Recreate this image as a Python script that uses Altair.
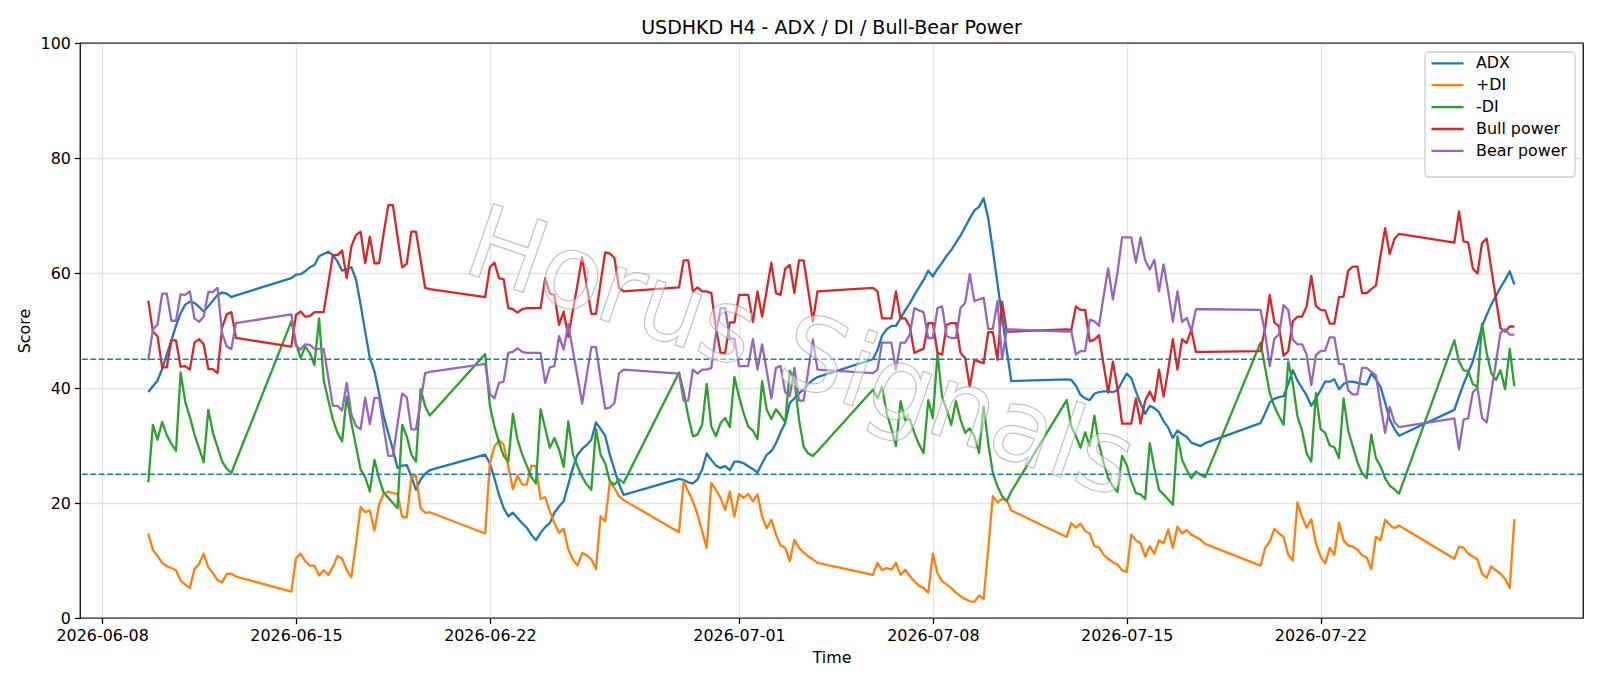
import altair as alt
import pandas as pd

# ---- H4 bar timestamps: 4-hour bars, market shut from the Friday 20:00 bar to Sunday 20:00 ----
all_slots = pd.date_range("2026-06-09 16:00", "2026-07-29 00:00", freq="4h")
is_open = ~((all_slots.dayofweek == 5) | ((all_slots.dayofweek == 6) & (all_slots.hour < 20)))
bar_times = all_slots[is_open].strftime("%Y-%m-%dT%H:%M:%S").tolist()

# ---- indicator values, one entry per bar (weeks separated by line breaks) ----
adx = [
    39.3, 40.3, 41.3, 43.3, 45.8, 48.3, 50.8, 53.0, 54.5, 55.0, 54.8, 54.1, 53.3, 54.2, 55.2, 56.2, 56.6, 56.4, 55.8, 56.1,
    59.1, 59.7, 59.8, 60.3, 61.0, 61.4, 62.9, 63.3, 63.7, 63.1, 62.0, 60.4, 60.7, 61.0, 58.9, 54.5, 49.8, 45.2, 42.9, 39.1, 35.1, 32.2, 29.3, 26.1, 26.5, 26.6, 24.6, 22.3, 24.1, 25.1, 25.7,
    28.4, 26.9, 24.3, 21.4, 19.1, 17.7, 18.3, 17.4, 16.5, 15.7, 14.5, 13.5, 14.8, 15.8, 16.5, 18.3, 19.4, 20.3, 23.2, 26.1, 28.4, 29.4, 30.1, 31.0, 34.0, 32.9, 31.7, 28.4, 25.8, 23.3, 21.4,
    24.2, 24.0, 23.6, 23.4, 24.1, 25.8, 28.6, 27.5, 26.5, 26.1, 26.4, 25.7, 27.2, 27.2, 26.9, 26.4, 25.9, 25.3, 26.9, 28.4, 29.0, 30.4, 32.3, 33.9, 37.4, 38.2, 39.1, 39.7, 40.7, 41.4, 41.9,
    45.0, 46.6, 49.1, 50.2, 50.8, 50.8, 52.1, 53.5, 54.7, 56.2, 57.5, 58.8, 60.4, 59.4, 60.7, 61.8, 63.0, 64.0, 65.3, 66.5, 68.0, 69.5, 70.9, 71.5, 73.0, 69.5, 64.0, 58.2, 52.4, 46.6, 41.2,
    41.5, 41.4, 40.4, 38.8, 38.2, 37.9, 39.0, 39.3, 39.4, 39.4, 39.3, 39.6, 41.1, 42.5, 41.7, 39.4, 37.3, 35.5, 36.9, 36.5, 35.8, 34.2, 33.1, 31.3, 32.6, 32.0, 31.5, 30.5, 30.2, 29.9, 30.4,
    33.9, 35.6, 37.5, 38.1, 38.4, 38.6, 40.7, 43.1, 41.3, 40.0, 38.7, 36.9, 38.2, 39.6, 41.1, 41.1, 41.5, 39.8, 40.7, 41.1, 41.1, 40.9, 40.7, 40.6, 42.5, 41.5, 40.2, 37.5, 34.5, 32.9, 31.7,
    36.2, 38.5, 40.7, 42.7, 44.6, 47.5, 50.7, 52.7, 54.5, 56.0, 57.5, 58.8, 60.3, 58.0,
]

plus_di = [
    14.7, 11.8, 10.8, 9.6, 9.0, 8.7, 8.3, 6.5, 5.8, 5.2, 8.5, 9.4, 11.2, 8.8, 7.8, 6.6, 6.2, 7.7, 7.7, 7.2,
    4.6, 10.4, 11.2, 9.9, 9.1, 9.1, 7.4, 8.3, 7.5, 8.9, 10.8, 10.3, 8.3, 7.1, 12.9, 19.3, 18.4, 18.7, 15.2, 19.7, 21.6, 22.0, 21.7, 21.6, 17.6, 17.5, 24.5, 24.8, 19.1, 18.3, 18.4,
    14.7, 26.9, 29.8, 30.9, 30.1, 26.4, 22.4, 24.8, 23.2, 23.2, 26.5, 26.4, 20.7, 21.0, 18.5, 16.5, 14.8, 15.5, 11.9, 10.2, 9.1, 11.3, 10.9, 10.2, 8.5, 17.7, 16.8, 23.6, 22.6, 21.2, 20.5,
    14.9, 23.8, 22.0, 20.3, 18.0, 15.1, 12.2, 23.5, 22.3, 20.9, 18.8, 22.0, 17.6, 21.6, 20.9, 21.6, 20.3, 21.5, 17.6, 15.6, 17.1, 14.5, 12.6, 12.2, 9.9, 13.6, 12.2, 11.4, 10.7, 10.2, 9.6,
    7.5, 9.6, 8.3, 8.7, 8.4, 9.6, 7.5, 8.4, 7.3, 6.4, 5.6, 5.2, 4.4, 11.2, 7.8, 6.4, 5.8, 5.2, 4.4, 3.8, 3.3, 2.9, 2.8, 3.9, 3.3, 12.0, 21.2, 20.1, 20.7, 20.5, 18.7,
    14.1, 16.5, 15.7, 16.4, 15.1, 14.7, 12.5, 12.3, 11.0, 10.3, 9.7, 9.3, 8.3, 8.0, 14.5, 13.5, 13.0, 10.7, 12.5, 11.2, 13.5, 13.0, 15.4, 12.2, 15.9, 14.7, 15.3, 14.5, 14.1, 13.6, 12.9,
    9.1, 12.2, 13.3, 15.5, 14.7, 14.1, 11.0, 10.0, 20.1, 17.6, 15.7, 17.2, 13.0, 10.7, 9.5, 12.2, 11.0, 16.6, 13.5, 12.6, 12.4, 11.9, 10.9, 10.5, 8.5, 14.1, 13.5, 17.1, 16.2, 15.6, 16.1,
    10.3, 12.4, 12.2, 11.2, 10.7, 10.2, 7.7, 7.0, 9.0, 8.3, 7.7, 6.8, 5.2, 17.2,
]

minus_di = [
    23.6, 33.6, 31.0, 34.1, 31.8, 30.3, 29.1, 42.7, 37.6, 35.0, 31.9, 29.5, 27.1, 36.2, 32.2, 29.7, 27.2, 26.0, 25.2, 27.3,
    51.6, 47.8, 45.2, 47.2, 46.1, 44.0, 52.1, 41.4, 37.9, 34.5, 32.2, 30.7, 38.5, 33.9, 29.9, 25.8, 24.5, 22.0, 27.5, 24.3, 21.8, 20.9, 20.0, 19.1, 33.6, 31.6, 28.4, 27.2, 39.8, 36.8, 35.2,
    45.9, 37.0, 33.3, 30.5, 28.2, 27.2, 35.5, 31.0, 28.5, 26.5, 24.5, 23.4, 36.3, 33.0, 29.6, 31.3, 29.3, 26.3, 34.2, 28.5, 26.4, 24.6, 23.2, 22.3, 32.9, 28.4, 26.9, 23.8, 23.2, 24.1, 23.5,
    42.7, 39.4, 35.1, 31.6, 31.9, 33.6, 40.7, 33.3, 31.6, 33.9, 34.8, 33.2, 41.9, 38.5, 35.6, 33.3, 32.6, 31.1, 41.2, 36.2, 34.6, 36.3, 35.3, 34.0, 43.0, 41.4, 34.5, 29.8, 28.6, 28.2, 29.0,
    39.7, 38.2, 40.2, 35.6, 33.0, 29.9, 37.7, 34.4, 34.6, 32.2, 30.2, 28.7, 37.9, 34.8, 46.0, 38.5, 36.2, 33.6, 37.7, 34.5, 32.2, 33.0, 31.6, 28.7, 36.8, 30.4, 25.2, 22.9, 21.2, 20.3, 22.0,
    37.9, 33.3, 31.6, 29.6, 32.3, 29.9, 35.2, 30.2, 27.0, 24.3, 22.9, 21.9, 28.2, 26.6, 23.8, 21.7, 21.5, 20.7, 30.4, 26.1, 22.3, 21.5, 20.6, 19.7, 31.6, 27.5, 25.8, 24.3, 25.5, 24.9, 24.5,
    47.9, 43.5, 39.1, 36.8, 35.1, 33.6, 44.6, 40.8, 35.1, 32.6, 28.6, 27.2, 39.1, 32.9, 32.2, 30.0, 29.7, 27.8, 38.2, 32.6, 29.8, 27.1, 25.2, 24.3, 31.9, 27.8, 26.4, 24.3, 23.0, 22.4, 21.6,
    48.3, 44.6, 43.1, 42.9, 40.7, 40.2, 51.2, 46.1, 42.6, 41.4, 43.1, 39.8, 46.8, 40.3,
]

bull_power = [
    55.2, 49.8, 49.0, 43.6, 43.6, 48.3, 48.3, 43.7, 43.8, 43.2, 47.9, 48.5, 47.6, 43.3, 43.3, 42.6, 50.5, 52.8, 53.2, 48.7,
    47.2, 52.7, 53.3, 52.4, 52.5, 53.2, 53.2, 53.2, 58.2, 63.1, 63.1, 63.9, 59.1, 64.6, 66.6, 67.2, 61.7, 66.3, 61.7, 61.7, 66.9, 71.8, 71.8, 66.3, 61.0, 61.6, 67.2, 67.2, 62.3, 57.4, 57.2,
    55.8, 61.0, 61.8, 59.1, 58.9, 53.9, 53.7, 53.1, 53.7, 53.9, 53.9, 53.9, 53.9, 59.1, 56.4, 56.2, 51.0, 53.3, 48.9, 53.5, 58.0, 62.7, 57.8, 52.9, 52.9, 58.3, 63.6, 63.4, 62.6, 57.4, 56.8,
    57.5, 62.2, 62.2, 56.8, 57.5, 56.8, 56.8, 56.5, 50.5, 46.1, 46.1, 51.4, 51.4, 56.2, 56.2, 56.2, 51.5, 56.8, 52.4, 57.0, 61.8, 56.5, 56.2, 60.7, 61.4, 56.5, 62.2, 62.2, 57.0, 51.6, 56.8,
    57.4, 56.8, 52.1, 52.1, 52.1, 56.8, 52.1, 52.1, 50.7, 46.1, 46.5, 46.8, 51.3, 51.3, 46.1, 45.8, 51.0, 51.3, 51.3, 46.1, 45.2, 40.2, 44.9, 44.6, 44.3, 49.7, 49.7, 44.9, 55.0, 49.8, 49.8,
    50.2, 50.1, 54.2, 53.6, 53.6, 48.1, 48.4, 49.2, 44.0, 39.2, 44.6, 40.0, 33.8, 33.8, 33.8, 38.2, 33.8, 37.8, 39.4, 37.7, 43.2, 38.5, 43.2, 48.5, 43.2, 48.5, 47.8, 50.1, 46.3, 46.3, 46.3,
    46.4, 50.5, 56.2, 51.4, 50.7, 45.6, 46.4, 51.6, 52.4, 52.4, 54.2, 59.5, 54.3, 53.6, 53.5, 51.2, 51.2, 55.8, 55.9, 60.4, 61.1, 61.1, 56.5, 56.5, 57.2, 57.8, 63.0, 67.8, 63.3, 65.9, 66.8,
    65.3, 70.7, 65.5, 65.3, 60.8, 59.9, 65.2, 66.0, 60.8, 55.6, 50.4, 49.8, 50.7, 50.7,
]

bear_power = [
    44.8, 50.2, 51.0, 56.4, 56.4, 51.7, 51.7, 56.3, 56.2, 56.8, 52.1, 51.5, 52.4, 56.7, 56.7, 57.4, 49.5, 47.2, 46.8, 51.3,
    52.8, 47.3, 46.7, 47.6, 47.5, 46.8, 46.8, 46.8, 41.8, 36.9, 36.9, 36.1, 40.9, 35.4, 33.4, 32.8, 38.3, 33.7, 38.3, 38.3, 33.1, 28.2, 28.2, 33.7, 39.0, 38.4, 32.8, 32.8, 37.7, 42.6, 42.8,
    44.2, 39.0, 38.2, 40.9, 41.1, 46.1, 46.3, 46.9, 46.3, 46.1, 46.1, 46.1, 46.1, 40.9, 43.6, 43.8, 49.0, 46.7, 51.1, 46.5, 42.0, 37.3, 42.2, 47.1, 47.1, 41.7, 36.4, 36.6, 37.4, 42.6, 43.2,
    42.5, 37.8, 37.8, 43.2, 42.5, 43.2, 43.2, 43.5, 49.5, 53.9, 53.9, 48.6, 48.6, 43.8, 43.8, 43.8, 48.5, 43.2, 47.6, 43.0, 38.2, 43.5, 43.8, 39.3, 38.6, 43.5, 37.8, 37.8, 43.0, 48.4, 43.2,
    42.6, 43.2, 47.9, 47.9, 47.9, 43.2, 47.9, 47.9, 49.3, 53.9, 53.5, 53.2, 48.7, 48.7, 53.9, 54.2, 49.0, 48.7, 48.7, 53.9, 54.8, 59.8, 55.1, 55.4, 55.7, 50.3, 50.3, 55.1, 45.0, 50.2, 50.2,
    49.8, 49.9, 45.8, 46.4, 46.4, 51.9, 51.6, 50.8, 56.0, 60.8, 55.4, 60.0, 66.2, 66.2, 66.2, 61.8, 66.2, 62.2, 60.6, 62.3, 56.8, 61.5, 56.8, 51.5, 56.8, 51.5, 52.2, 49.9, 53.7, 53.7, 53.7,
    53.6, 49.5, 43.8, 48.6, 49.3, 54.4, 53.6, 48.4, 47.6, 47.6, 45.8, 40.5, 45.7, 46.4, 46.5, 48.8, 48.8, 44.2, 44.1, 39.6, 38.9, 38.9, 43.5, 43.5, 42.8, 42.2, 37.0, 32.2, 36.7, 34.1, 33.2,
    34.7, 29.3, 34.5, 34.7, 39.2, 40.1, 34.8, 34.0, 39.2, 44.4, 49.6, 50.2, 49.3, 49.3,
]

series_names = ["ADX", "+DI", "-DI", "Bull power", "Bear power"]
series_colors = ["#1f77b4", "#ff7f0e", "#2ca02c", "#d62728", "#9467bd"]
series_values = [adx, plus_di, minus_di, bull_power, bear_power]

threshold_levels = [45, 25]
x_tick_dates = [(2026, 6, 8), (2026, 6, 15), (2026, 6, 22), (2026, 7, 1),
                (2026, 7, 8), (2026, 7, 15), (2026, 7, 22)]
y_ticks = [0, 20, 40, 60, 80, 100]
title_text = "USDHKD H4 - ADX / DI / Bull-Bear Power"
watermark_text = "Horus Signals"

# ---- layout (pixels) ----
PLOT_W, PLOT_H = 1503, 575
FONT = "DejaVu Sans"
LW = 2.3

x_scale = alt.Scale(
    domain=[alt.DateTime(year=2026, month=6, date=7, hours=4, minutes=48),
            alt.DateTime(year=2026, month=7, date=31, hours=11, minutes=30)],
    nice=False,
)
y_scale = alt.Scale(domain=[0, 100], nice=False, zero=False)

x_axis = alt.Axis(
    values=[alt.DateTime(year=y, month=m, date=d) for y, m, d in x_tick_dates],
    format="%Y-%m-%d", title="Time", labelAngle=0,
)
y_axis = alt.Axis(values=y_ticks, title="Score")

layers = []
for name, color, vals in zip(series_names, series_colors, series_values):
    frame = pd.DataFrame({"time": bar_times, "value": vals, "series": name})
    layers.append(
        alt.Chart(frame).mark_line(color=color, strokeWidth=LW, strokeJoin="round").encode(
            x=alt.X("time:T", scale=x_scale, axis=x_axis),
            y=alt.Y("value:Q", scale=y_scale, axis=y_axis),
        )
    )

# dashed reference levels
levels = alt.Chart(pd.DataFrame({"value": threshold_levels})).mark_rule(
    color="#1f77b4", strokeWidth=1.6, strokeDash=[5.9, 2.5]
).encode(y=alt.Y("value:Q", scale=y_scale, axis=y_axis))
layers.append(levels)

# diagonal watermark
wm = alt.Chart(pd.DataFrame({"watermark": [watermark_text]})).mark_text(
    font=FONT, fontSize=102, angle=19, align="center", baseline="middle",
    fill="white", fillOpacity=0.45, stroke="#9a9a9a", strokeOpacity=0.6, strokeWidth=1.2,
).encode(x=alt.value(720), y=alt.value(312), text="watermark:N")
layers.append(wm)

# legend box in the upper right corner
LEG_X0, LEG_X1, LEG_Y0, LEG_Y1 = 1345, 1495, 9, 134
legend_box = alt.Chart(pd.DataFrame({"k": [0]})).mark_rect(
    fill="white", fillOpacity=0.8, stroke="#cccccc", strokeWidth=1.3, cornerRadius=4
).encode(x=alt.value(LEG_X0), x2=alt.value(LEG_X1), y=alt.value(LEG_Y0), y2=alt.value(LEG_Y1))
layers.append(legend_box)
for i, (name, color) in enumerate(zip(series_names, series_colors)):
    yy = 20.3 + 21.9 * i
    entry = pd.DataFrame({"label": [name]})
    layers.append(
        alt.Chart(entry).mark_rule(color=color, strokeWidth=LW).encode(
            x=alt.value(LEG_X0 + 6.5), x2=alt.value(LEG_X0 + 38.5), y=alt.value(yy)
        )
    )
    layers.append(
        alt.Chart(entry).mark_text(
            font=FONT, fontSize=15.9, align="left", baseline="middle", color="black"
        ).encode(x=alt.value(LEG_X0 + 51), y=alt.value(yy), text="label:N")
    )

# chart title, centred over the plot area
title_mark = alt.Chart(pd.DataFrame({"title": [title_text]})).mark_text(
    font=FONT, fontSize=19, align="center", baseline="alphabetic", color="black"
).encode(x=alt.value(PLOT_W / 2), y=alt.value(-9.5), text="title:N")
layers.append(title_mark)

chart = alt.layer(*layers).properties(
    width=PLOT_W,
    height=PLOT_H,
    background="white",
    autosize=alt.AutoSizeParams(type="none"),
    padding={"left": 80, "top": 43, "right": 17, "bottom": 68},
).configure_view(
    stroke="black", strokeWidth=1.27, fill="white"
).configure_axis(
    labelFont=FONT, labelFontSize=15.9, labelColor="black",
    titleFont=FONT, titleFontSize=15.9, titleFontWeight="normal", titleColor="black",
    tickColor="black", tickWidth=1.27, tickSize=5.6, labelPadding=4,
    domain=False, grid=True, gridColor="#b0b0b0", gridOpacity=0.35, gridWidth=1.27,
).configure_axisX(titlePadding=6).configure_axisY(titlePadding=8)

chart.save("out.html", embed_options={"renderer": "svg", "actions": False})
